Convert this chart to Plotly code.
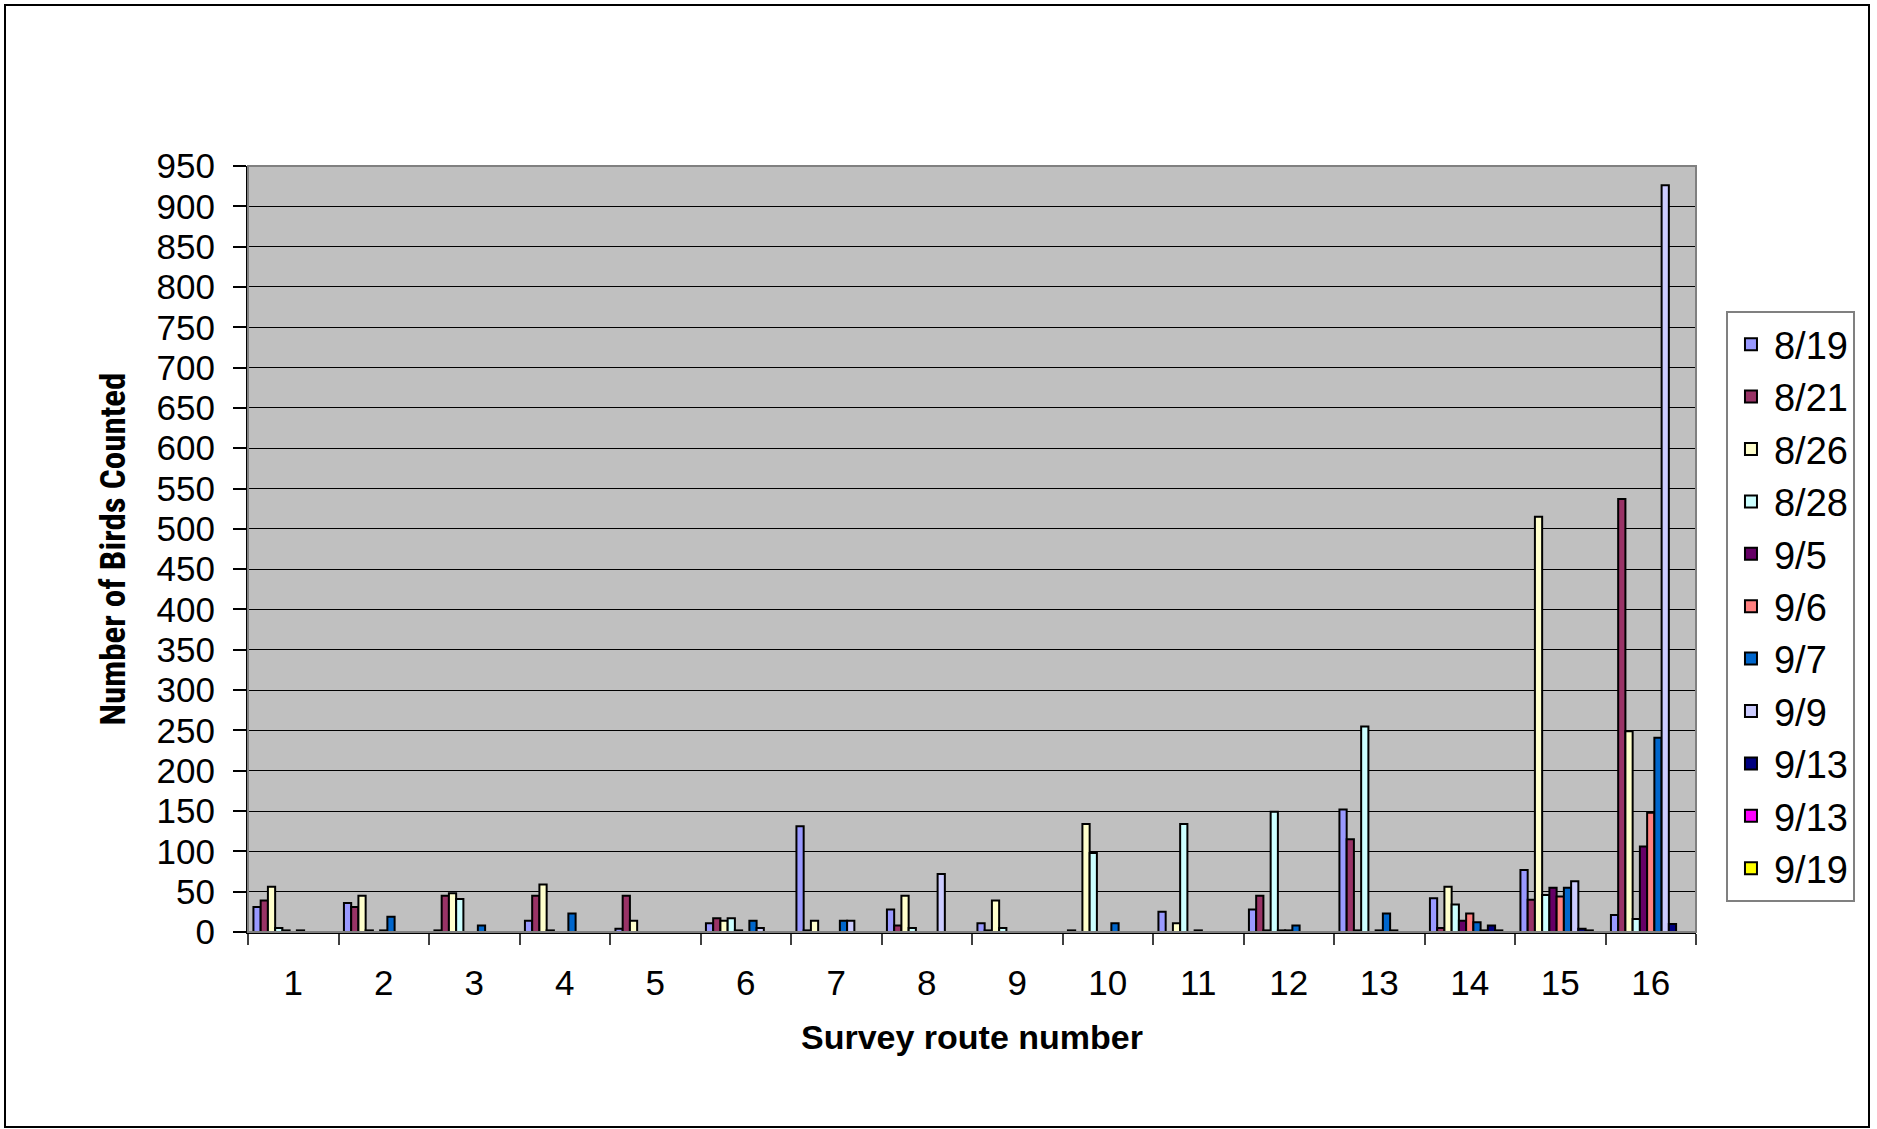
import plotly.graph_objects as go

routes = [str(i) for i in range(1, 17)]
dates = ["8/19", "8/21", "8/26", "8/28", "9/5", "9/6", "9/7", "9/9", "9/13", "9/13", "9/19"]
colors = ["#9999FF", "#993366", "#FFFFCC", "#CCFFFF", "#660066", "#FF8080",
          "#0066CC", "#CCCCFF", "#000080", "#FF00FF", "#FFFF00"]

# counts per date (series) across routes 1..16
s_0819 = [31, 36, 2, 14, 4, 11, 131, 28, 11, 2, 25, 28, 152, 42, 77, 21]
s_0821 = [39, 31, 45, 45, 45, 17, 2, 8, 2, 0, 0, 45, 115, 5, 40, 537]
s_0826 = [56, 45, 48, 59, 14, 14, 14, 45, 39, 134, 11, 2, 2, 56, 515, 249]
s_0828 = [5, 2, 41, 2, 0, 17, 0, 5, 5, 98, 134, 149, 255, 34, 46, 16]
s_0905 = [2, 0, 0, 0, 0, 2, 0, 0, 0, 0, 0, 2, 0, 14, 55, 106]
s_0906 = [0, 2, 0, 0, 0, 0, 0, 0, 0, 0, 2, 2, 2, 23, 44, 148]
s_0907 = [2, 19, 8, 23, 0, 14, 14, 0, 0, 11, 0, 8, 23, 12, 55, 241]
s_0909 = [0, 0, 0, 0, 0, 5, 14, 72, 0, 0, 0, 0, 2, 2, 63, 926]
s_0913a = [0, 0, 0, 0, 0, 0, 0, 0, 0, 0, 0, 0, 0, 8, 4, 10]
s_0913b = [0, 0, 0, 0, 0, 0, 0, 0, 0, 0, 0, 0, 0, 2, 2, 0]
s_0919 = [0, 0, 0, 0, 0, 0, 0, 0, 0, 0, 0, 0, 0, 0, 0, 0]

series = [s_0819, s_0821, s_0826, s_0828, s_0905, s_0906, s_0907, s_0909,
          s_0913a, s_0913b, s_0919]

yticks = list(range(0, 951, 50))

FONT = "Liberation Sans, Arial, sans-serif"
NARROW = "Liberation Sans Narrow, Arial Narrow, Roboto Condensed, sans-serif"

fig = go.Figure()
for i, (name, vals, col) in enumerate(zip(dates, series, colors)):
    fig.add_trace(go.Bar(
        x=routes, y=vals, name=name, legendgroup=f"g{i}",
        marker=dict(color=col, line=dict(color="black", width=2)),
    ))

fig.update_layout(
    width=1877, height=1129,
    margin=dict(l=248, r=181, t=166, b=197),
    paper_bgcolor="white",
    plot_bgcolor="#C0C0C0",
    barmode="group",
    bargap=0.12,
    bargroupgap=0,
    font=dict(family=FONT, size=34, color="black"),
    showlegend=True,
    legend=dict(
        x=1.0207, xanchor="left", y=0.8107, yanchor="top",
        bordercolor="#808080", borderwidth=2, bgcolor="white",
        font=dict(family=FONT, size=38),
        tracegroupgap=0,
        itemwidth=36,
    ),
    xaxis=dict(
        type="category",
        tickson="boundaries",
        ticks="outside", ticklen=11, tickwidth=1.5, tickcolor="#404040",
        showline=True, linecolor="black", linewidth=2,
        showgrid=False,
        tickfont=dict(family=FONT, size=35),
        ticklabelstandoff=19,
        title=dict(text="<b>Survey route number</b>",
                   font=dict(family=FONT, size=34), standoff=24),
    ),
    yaxis=dict(
        range=[0, 950],
        tickvals=yticks,
        ticks="outside", ticklen=13, tickwidth=1.5, tickcolor="black",
        showline=True, linecolor="black", linewidth=2,
        showgrid=True, gridcolor="black", gridwidth=1,
        zeroline=False,
        tickfont=dict(family=FONT, size=35),
        ticklabelstandoff=11,
        title=dict(text="<b>Number of Birds Counted</b>",
                   font=dict(family=NARROW, size=35),
                   standoff=20),
    ),
)

# plot-area frame and outer chart border
fig.add_shape(type="rect", xref="paper", yref="paper", x0=0, y0=0, x1=1, y1=1,
              line=dict(color="#808080", width=2), layer="above")
fig.add_shape(type="rect", xref="paper", yref="paper",
              x0=(5 - 248) / 1448, x1=(1869 - 248) / 1448,
              y0=-(1127 - 932) / 766, y1=(932 - 5) / 766,
              line=dict(color="black", width=2), layer="below")

fig.write_html("out.html", config={"displayModeBar": False},
               post_script="document.body.style.margin='0';")
